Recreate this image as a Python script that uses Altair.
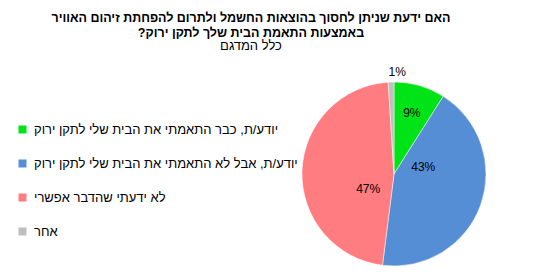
import altair as alt
import pandas as pd

categories = [
    "יודע/ת, כבר התאמתי את הבית שלי לתקן ירוק",
    "יודע/ת, אבל לא התאמתי את הבית שלי לתקן ירוק",
    "לא ידעתי שהדבר אפשרי",
    "אחר",
]
values = [9, 43, 47, 1]
colors = ["#00E317", "#558ED5", "#FF7C80", "#BFBFBF"]
title_lines = [
    "האם ידעת שניתן לחסוך בהוצאות החשמל ולתרום להפחתת זיהום האוויר",
    "באמצעות התאמת הבית שלך לתקן ירוק?",
]
subtitle = "כלל המדגם"

RLM = "\u200F"
df = pd.DataFrame({"cat": categories, "val": values, "order": list(range(len(values)))})
df["label"] = df["val"].astype(str) + "%"

FONT = "Arial, Liberation Sans"

base = alt.Chart(df).encode(
    theta=alt.Theta("val:Q", stack=True),
    order=alt.Order("order:Q"),
)

pie = base.mark_arc(outerRadius=92, stroke="white", strokeWidth=0.5).encode(
    color=alt.Color(
        "cat:N",
        scale=alt.Scale(domain=categories, range=colors),
        sort=categories,
        legend=alt.Legend(
            title=None,
            orient="none",
            legendX=-228,
            legendY=43,
            symbolType="square",
            symbolSize=64,
            symbolStrokeWidth=0,
            labelFontSize=13,
            labelFont=FONT,
            labelColor="#000000",
            labelLimit=400,
            rowPadding=20,
            labelOffset=5,
        ),
    )
)

labels = base.transform_calculate(
    r="datum.val < 5 ? 102 : (datum.val < 20 ? 64 : 30)"
).mark_text(fontSize=12, font=FONT, color="#000000").encode(
    radius=alt.Radius("r:Q", scale=None),
    text="label:N",
)

chart = (
    alt.layer(pie, labels)
    .properties(
        width=300,
        height=188,
        padding={"left": 244, "top": 80, "right": 0, "bottom": 6},
        autosize=alt.AutoSizeParams(type="none"),
        title=alt.TitleParams(
            text=[t + RLM for t in title_lines],
            subtitle=subtitle,
            anchor="middle",
            font=FONT,
            fontSize=12.5,
            fontWeight="bold",
            color="#000000",
            subtitleFont=FONT,
            subtitleFontSize=13,
            subtitleColor="#000000",
            subtitlePadding=1,
            lineHeight=15,
            subtitleLineHeight=14,
            dx=-143,
            offset=13,
        ),
    )
    .configure_view(stroke=None)
    .configure(background="white")
)

chart.save("out.html", embed_options={"renderer": "svg", "actions": False})
